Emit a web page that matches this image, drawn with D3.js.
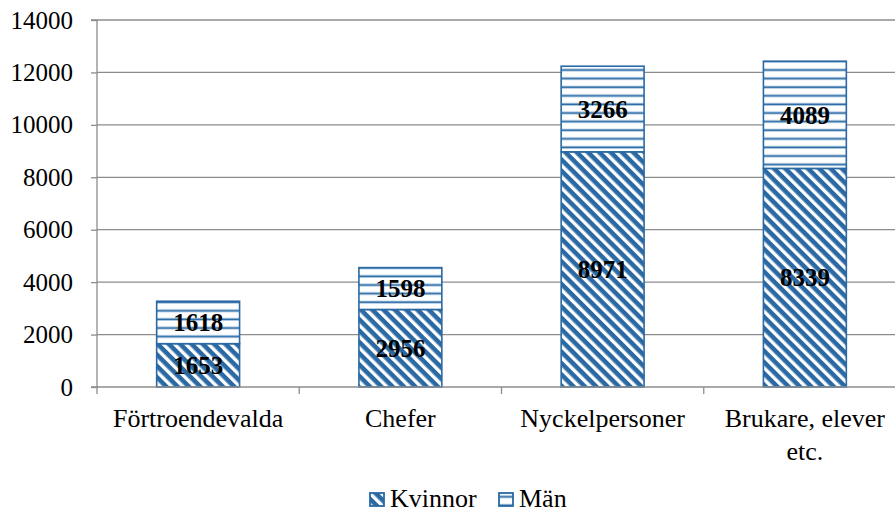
<!DOCTYPE html>
<html>
<head>
<meta charset="utf-8">
<script src="https://cdn.jsdelivr.net/npm/d3@7"></script>
<style>
  body { margin: 0; background: #fff; }
</style>
</head>
<body>
<div id="chart"></div>
<script>
// data
const categories = ["Förtroendevalda", "Chefer", "Nyckelpersoner", "Brukare, elever etc."];
const kvinnor = [1653, 2956, 8971, 8339];
const man = [1618, 1598, 3266, 4089];
const yTicks = [0, 2000, 4000, 6000, 8000, 10000, 12000, 14000];
const seriesNames = ["Kvinnor", "Män"];

// labels wrapped as in the original
const catLines = {
  "Brukare, elever etc.": ["Brukare, elever", "etc."]
};

const FONT = "Liberation Serif";
const width = 895, height = 513;
const margin = { top: 20, right: -11, bottom: 126, left: 97 };
const innerW = width - margin.left - margin.right;
const innerH = height - margin.top - margin.bottom;

const BLUE = "#2A69A3";
const GRID = "#8c8c8c";

const svg = d3.select("#chart").append("svg")
  .attr("width", width)
  .attr("height", height)
  .attr("font-family", FONT);

// patterns
const defs = svg.append("defs");

const diag = defs.append("pattern")
  .attr("id", "pat-diag")
  .attr("patternUnits", "userSpaceOnUse")
  .attr("width", 8)
  .attr("height", 8)
  .attr("patternTransform", "rotate(45)");
diag.append("rect").attr("width", 8).attr("height", 8).attr("fill", "#fff");
diag.append("rect").attr("width", 8).attr("height", 4.6).attr("fill", BLUE);

const horiz = defs.append("pattern")
  .attr("id", "pat-horiz")
  .attr("patternUnits", "userSpaceOnUse")
  .attr("width", 8)
  .attr("height", 8.6);
horiz.append("rect").attr("width", 8).attr("height", 8.6).attr("fill", "#fff");
horiz.append("rect").attr("y", 5.3).attr("width", 8).attr("height", 3.3).attr("fill", "#c9dcee");
horiz.append("rect").attr("y", 6.2).attr("width", 8).attr("height", 1.6).attr("fill", BLUE);

const chart = svg.append("g")
  .attr("transform", `translate(${margin.left},${margin.top})`);

// scales
const x = d3.scaleBand()
  .domain(categories)
  .range([0, innerW])
  .paddingInner(0.59)
  .paddingOuter(0.295);

const y = d3.scaleLinear()
  .domain([0, 14000])
  .range([innerH, 0]);

// gridlines
chart.append("g")
  .selectAll("line")
  .data(yTicks.filter(d => d > 0))
  .join("line")
  .attr("x1", 0)
  .attr("x2", width - margin.left)
  .attr("y1", d => y(d))
  .attr("y2", d => y(d))
  .attr("stroke", GRID)
  .attr("stroke-width", 1.3);

// stacked data
const rows = categories.map((c, i) => ({ cat: c, Kvinnor: kvinnor[i], "Män": man[i] }));
const stack = d3.stack().keys(seriesNames)(rows);
const fills = { "Kvinnor": "url(#pat-diag)", "Män": "url(#pat-horiz)" };

const layers = chart.selectAll("g.layer")
  .data(stack)
  .join("g")
  .attr("class", "layer");

layers.selectAll("rect")
  .data(d => d.map(v => ({ key: d.key, v })))
  .join("rect")
  .attr("x", d => x(d.v.data.cat))
  .attr("y", d => y(d.v[1]))
  .attr("width", x.bandwidth())
  .attr("height", d => y(d.v[0]) - y(d.v[1]))
  .attr("fill", d => fills[d.key])
  .attr("stroke", BLUE)
  .attr("stroke-width", 1.6);

// value labels
layers.selectAll("text")
  .data(d => d.map(v => ({ key: d.key, v })))
  .join("text")
  .attr("x", d => x(d.v.data.cat) + x.bandwidth() / 2)
  .attr("y", d => y((d.v[0] + d.v[1]) / 2))
  .attr("dy", "0.35em")
  .attr("text-anchor", "middle")
  .attr("font-family", FONT)
  .attr("font-weight", "bold")
  .attr("font-size", 25)
  .attr("fill", "#000")
  .text(d => d.v[1] - d.v[0]);

// y axis
const yAxis = chart.append("g")
  .call(d3.axisLeft(y).tickValues(yTicks).tickSize(6).tickPadding(18).tickFormat(d3.format("d")))
  .attr("font-family", FONT)
  .attr("font-size", 25);
yAxis.select(".domain").attr("stroke", GRID).attr("stroke-width", 1.3).attr("d", `M-6,0H0V${innerH}H-6`);
yAxis.selectAll(".tick line").attr("stroke", GRID).attr("stroke-width", 1.3);
yAxis.selectAll("text")
  .attr("font-family", FONT)
  .attr("font-size", 25)
  .attr("fill", "#000");

// x axis
const xAxis = chart.append("g")
  .attr("transform", `translate(0,${innerH})`);
xAxis.append("line")
  .attr("x1", 0).attr("x2", width - margin.left)
  .attr("stroke", GRID).attr("stroke-width", 1.3);
xAxis.selectAll("line.tk")
  .data(d3.range(categories.length + 1))
  .join("line")
  .attr("class", "tk")
  .attr("x1", i => i * x.step())
  .attr("x2", i => i * x.step())
  .attr("y1", 0).attr("y2", 7)
  .attr("stroke", GRID).attr("stroke-width", 1.3);

const xl = xAxis.selectAll("text")
  .data(categories)
  .join("text")
  .attr("x", d => x(d) + x.bandwidth() / 2)
  .attr("y", 40)
  .attr("text-anchor", "middle")
  .attr("font-family", FONT)
  .attr("font-size", 26)
  .attr("fill", "#000");
xl.each(function(d) {
  const lines = catLines[d] || [d];
  d3.select(this).selectAll("tspan")
    .data(lines)
    .join("tspan")
    .attr("x", x(d) + x.bandwidth() / 2)
    .attr("dy", (l, i) => i === 0 ? 0 : 33)
    .text(l => l);
});

// legend
const legend = svg.append("g")
  .attr("transform", "translate(370,507)");
const legItems = [
  { name: "Kvinnor", fill: "url(#pat-diag)", dx: 0 },
  { name: "Män", fill: "url(#pat-horiz)", dx: 129 }
];
const li = legend.selectAll("g")
  .data(legItems)
  .join("g")
  .attr("transform", d => `translate(${d.dx},0)`);
li.append("rect")
  .attr("x", 0).attr("y", -14)
  .attr("width", 14).attr("height", 13)
  .attr("fill", d => d.fill)
  .attr("stroke", BLUE)
  .attr("stroke-width", 1.8);
li.append("text")
  .attr("x", 20)
  .attr("y", 0)
  .attr("font-family", FONT)
  .attr("font-size", 26)
  .attr("fill", "#000")
  .text(d => d.name);
</script>
</body>
</html>
